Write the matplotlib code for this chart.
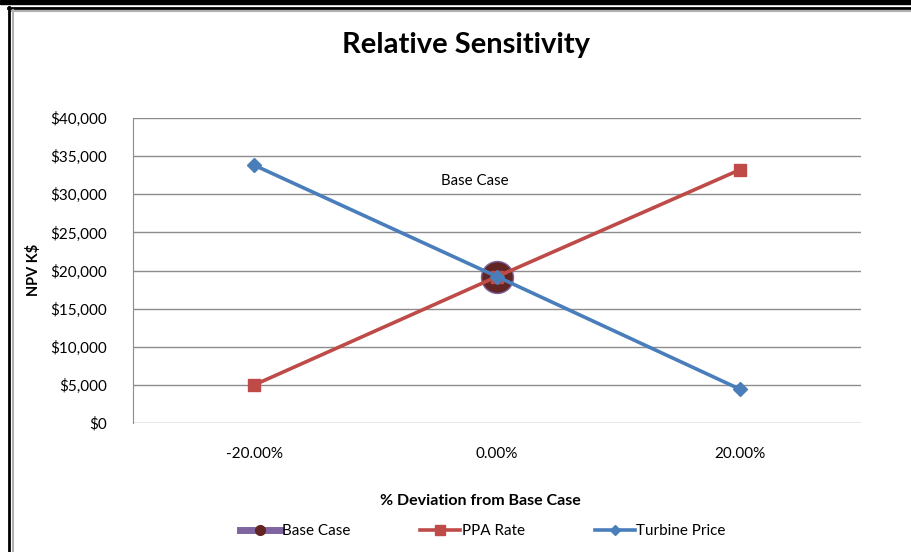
import matplotlib
matplotlib.use("Agg")
import matplotlib.pyplot as plt
from matplotlib.lines import Line2D
from matplotlib.patches import Rectangle

plt.rcParams['font.family'] = ['Lato', 'DejaVu Sans']

# Data
categories = ["-20.00%", "0.00%", "20.00%"]
ppa_rate = [5000, 19200, 33200]
turbine_price = [33800, 19200, 4450]
base_case_x = ["0.00%"]
base_case_y = [19200]
y_ticks = [0, 5000, 10000, 15000, 20000, 25000, 30000, 35000, 40000]

blue = "#4A7EBB"
red = "#BE4B48"
purple = "#7E64A0"
dark_red = "#632523"

fig = plt.figure(figsize=(9.11, 5.52), dpi=100)

# Outer frame
W, H = 911, 552
def fx(px): return px / W
def fy(py): return 1 - py / H
fig.patches.append(Rectangle((0, fy(4)), 1, 4 / H, transform=fig.transFigure,
                             color="black", zorder=0))
fig.lines.append(Line2D([fx(8), 1], [fy(7.5), fy(7.5)], transform=fig.transFigure,
                        color="black", lw=2))
fig.lines.append(Line2D([fx(12), 1], [fy(10.5), fy(10.5)], transform=fig.transFigure,
                        color="#B0B0B0", lw=1.5))
fig.lines.append(Line2D([fx(9), fx(9)], [fy(7), 0], transform=fig.transFigure,
                        color="black", lw=2))
fig.lines.append(Line2D([fx(12.5), fx(12.5)], [fy(10), 0], transform=fig.transFigure,
                        color="#B0B0B0", lw=1.5))

ax = fig.add_axes([fx(133), fy(423), fx(861) - fx(133), fy(118) - fy(423)])
x = list(range(len(categories)))
idx = {c: i for i, c in enumerate(categories)}

ax.plot([idx[c] for c in base_case_x], base_case_y, color=purple, lw=5,
        marker="o", markersize=23, markerfacecolor=dark_red,
        markeredgecolor=purple, markeredgewidth=1, label="Base Case", zorder=3)
ax.plot(x, ppa_rate, color=red, lw=2.6, marker="s", markersize=9,
        markerfacecolor=red, markeredgecolor=red, label="PPA Rate", zorder=4)
ax.plot(x, turbine_price, color=blue, lw=2.6, marker="D", markersize=7.5,
        markerfacecolor=blue, markeredgecolor=blue, label="Turbine Price", zorder=5)

ax.text(idx[base_case_x[0]] - 0.09, 31700, "Base Case", ha="center", va="center",
        fontsize=10.8, color="black")

ax.set_xlim(-0.5, len(categories) - 0.5)
ax.set_ylim(0, 40000)
ax.set_xticks(x)
ax.set_xticklabels(categories, fontsize=11)
ax.set_yticks(y_ticks)
ax.set_yticklabels([f"${v:,.0f}" for v in y_ticks], fontsize=11)
ax.tick_params(axis="both", length=0)
ax.tick_params(axis="x", pad=17)
ax.tick_params(axis="y", pad=19)
ax.grid(axis="y", color="#8C8C8C", lw=1)
ax.set_axisbelow(True)
for s in ["top", "right"]:
    ax.spines[s].set_visible(False)
ax.spines["bottom"].set_visible(False)
ax.spines["left"].set_color("#8C8C8C")

fig.text(fx(466), fy(45), "Relative Sensitivity", ha="center", va="center",
         fontsize=21, fontweight="bold")
fig.text(fx(33), fy(270), "NPV K$", ha="center", va="center", rotation=90,
         fontsize=10.5, fontweight="bold")
fig.text(fx(480), fy(501), "% Deviation from Base Case", ha="center", va="center",
         fontsize=11.5, fontweight="bold")

handles = [
    Line2D([], [], color=purple, lw=5, marker="o", markersize=7,
           markerfacecolor=dark_red, markeredgecolor=dark_red),
    Line2D([], [], color=red, lw=2.6, marker="s", markersize=7,
           markerfacecolor=red, markeredgecolor=red),
    Line2D([], [], color=blue, lw=2.6, marker="D", markersize=5.5,
           markerfacecolor=blue, markeredgecolor=blue),
]
fig.legend(handles, ["Base Case", "PPA Rate", "Turbine Price"], loc="center",
           bbox_to_anchor=(fx(483), fy(531)), ncol=3, frameon=False, numpoints=1,
           fontsize=11, handlelength=2.6, handletextpad=0.1, columnspacing=4.6)

fig.savefig("out.png", dpi=100)
